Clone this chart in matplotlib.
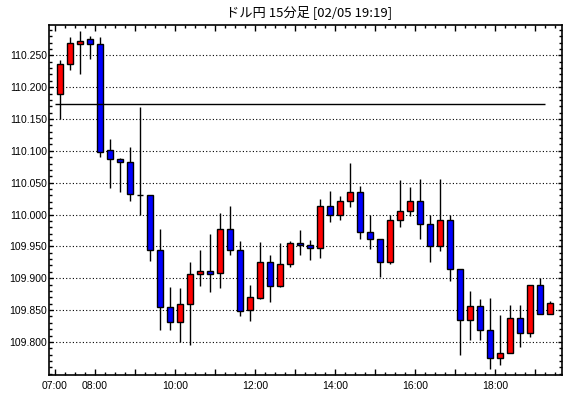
import numpy as np
import matplotlib.pyplot as plt
from matplotlib.ticker import MultipleLocator, FixedLocator, FormatStrFormatter

title = "ドル円 15分足 [02/05 19:19]"

# 15 minute candles starting 07:00 (50 bars, last one 19:15)
opens = [110.189, 110.237, 110.268, 110.275, 110.268, 110.101, 110.087, 110.083, 110.031, 110.030,
         109.945, 109.855, 109.832, 109.859, 109.906, 109.911, 109.908, 109.977, 109.945, 109.850,
         109.869, 109.926, 109.888, 109.923, 109.956, 109.952, 109.947, 110.013, 109.999, 110.021,
         110.036, 109.972, 109.961, 109.925, 109.991, 110.005, 110.021, 109.985, 109.951, 109.991,
         109.914, 109.835, 109.857, 109.819, 109.774, 109.782, 109.837, 109.814, 109.889, 109.844]
highs = [110.242, 110.279, 110.288, 110.280, 110.279, 110.118, 110.088, 110.106, 110.169, 110.030,
         109.977, 109.886, 109.884, 109.926, 109.944, 109.969, 110.003, 110.013, 109.959, 109.889,
         109.957, 109.936, 109.955, 109.959, 109.975, 109.960, 110.024, 110.037, 110.029, 110.081,
         110.045, 110.000, 109.961, 109.999, 110.054, 110.043, 110.056, 110.000, 110.056, 110.000,
         109.914, 109.880, 109.867, 109.869, 109.842, 109.858, 109.858, 109.890, 109.900, 109.864]
lows = [110.150, 110.227, 110.220, 110.245, 110.091, 110.041, 110.036, 110.022, 110.000, 109.927,
        109.819, 109.818, 109.800, 109.795, 109.888, 109.879, 109.885, 109.937, 109.841, 109.833,
        109.867, 109.863, 109.886, 109.918, 109.936, 109.929, 109.932, 109.989, 109.991, 110.012,
        109.962, 109.946, 109.902, 109.923, 109.981, 109.998, 109.961, 109.926, 109.942, 109.896,
        109.780, 109.803, 109.803, 109.758, 109.763, 109.782, 109.792, 109.808, 109.844, 109.844]
closes = [110.237, 110.269, 110.273, 110.267, 110.098, 110.087, 110.083, 110.033, 110.031, 109.945,
          109.855, 109.832, 109.859, 109.906, 109.911, 109.907, 109.977, 109.945, 109.848, 109.870,
          109.926, 109.888, 109.923, 109.956, 109.952, 109.947, 110.013, 109.999, 110.021, 110.036,
          109.972, 109.961, 109.925, 109.991, 110.005, 110.021, 109.985, 109.951, 109.991, 109.914,
          109.835, 109.857, 109.819, 109.774, 109.782, 109.837, 109.814, 109.889, 109.844, 109.861]

ref_level = 110.173

price_ticks = [109.80, 109.85, 109.90, 109.95, 110.00, 110.05, 110.10, 110.15, 110.20, 110.25]
hour_labels = ["07:00", "08:00", "", "10:00", "", "12:00", "", "14:00", "", "16:00", "", "18:00", ""]

plt.rcParams['font.family'] = ['Liberation Sans', 'DejaVu Sans']

fig = plt.figure(figsize=(5.7, 3.98), dpi=100)
ax = fig.add_axes([0.0865, 0.0578, 0.8995, 0.880])

o = np.array(opens)
c = np.array(closes)
x = np.arange(len(o)) + 0.5

colors = []
for op, cl in zip(o, c):
    if cl > op:
        colors.append('#ff0000')
    elif cl < op:
        colors.append('#0000ff')
    else:
        colors.append('black')

# wicks then bodies
ax.vlines(x, lows, highs, color='black', lw=1, zorder=2)
ax.bar(x, np.abs(c - o), bottom=np.minimum(o, c), width=0.65,
       color=colors, edgecolor='black', linewidth=1, zorder=3)

ax.hlines(ref_level, 0, 49, color='black', lw=1, zorder=4)

ax.set_xlim(-0.57, 50.7)
ax.set_ylim(109.748, 110.298)

ax.yaxis.set_major_locator(FixedLocator(price_ticks))
ax.yaxis.set_minor_locator(MultipleLocator(0.01))
ax.yaxis.set_major_formatter(FormatStrFormatter('%.3f'))
ax.xaxis.set_major_locator(FixedLocator(np.arange(0, 49, 4)))
ax.set_xticklabels(hour_labels)
ax.xaxis.set_minor_locator(MultipleLocator(1))

ax.yaxis.grid(True, linestyle=(0, (1, 2)), color='black', lw=0.8)
ax.set_axisbelow(True)

ax.tick_params(which='both', direction='in', top=True, right=True, width=1, labelsize=7.5, colors='black')
ax.tick_params(axis='x', which='major', length=4.5, pad=4)
ax.tick_params(axis='x', which='minor', length=2.5)
ax.tick_params(axis='y', which='major', length=3, pad=1.5)
ax.tick_params(axis='y', which='minor', length=2.5)

for s in ax.spines.values():
    s.set_linewidth(1.2)
    s.set_color('black')

fig.text(0.5416, 0.97, title, ha='center', va='center', fontsize=9.5,
         family=['Noto Sans CJK JP', 'DejaVu Sans'])

fig.savefig('out.png', dpi=100)
